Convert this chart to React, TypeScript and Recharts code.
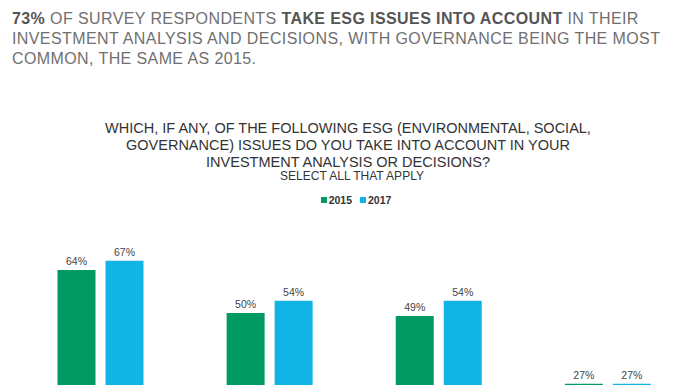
import React from "react";
import { BarChart, Bar, XAxis, YAxis, Legend, LabelList } from "recharts";

const categories = ["Governance", "Environmental", "Social", "None of these"];
const values2015 = [64, 50, 49, 27];
const values2017 = [67, 54, 54, 27];
const seriesNames = ["2015", "2017"];

const GREEN = "#029a63";
const BLUE = "#12b4e5";

const data = categories.map((name, i) => ({
  name,
  y2015: values2015[i],
  y2017: values2017[i],
}));

const pct = (v: number) => `${v}%`;

function LegendRow({ payload }: { payload?: Array<{ value: string; color: string }> }) {
  if (!payload?.length) return null;
  return (
    <div style={{ display: "flex", justifyContent: "center", gap: 8, paddingLeft: 16 }}>
      {payload.map((item) => (
        <div key={item.value} style={{ display: "flex", alignItems: "center", gap: 2 }}>
          <span style={{ width: 6, height: 6, background: item.color, display: "inline-block" }} />
          <span style={{ fontSize: 10.5, lineHeight: "12px", color: "#333", fontWeight: 700 }}>
            {item.value}
          </span>
        </div>
      ))}
    </div>
  );
}

export default function App() {
  return (
    <div
      style={{
        position: "absolute",
        left: 0,
        top: 0,
        width: 696,
        height: 385,
        overflow: "hidden",
        background: "#fff",
        fontFamily: "'Liberation Sans', Arial, sans-serif",
      }}
    >
      <div
        style={{
          position: "absolute",
          left: 12,
          top: 8.8,
          width: 684,
          whiteSpace: "nowrap",
          fontSize: 16,
          lineHeight: "20px",
          letterSpacing: 0.4,
          color: "#707070",
        }}
      >
        <b style={{ color: "#555" }}>73%</b> OF SURVEY RESPONDENTS{" "}
        <b style={{ color: "#555" }}>TAKE ESG ISSUES INTO ACCOUNT</b> IN THEIR
        <br />
        INVESTMENT ANALYSIS AND DECISIONS, WITH GOVERNANCE BEING THE MOST
        <br />
        COMMON, THE SAME AS 2015.
      </div>

      <div
        style={{
          position: "absolute",
          left: 0,
          top: 119.5,
          width: 696,
          textAlign: "center",
          fontSize: 14.5,
          lineHeight: "17px",
          color: "#333",
        }}
      >
        WHICH, IF ANY, OF THE FOLLOWING ESG (ENVIRONMENTAL, SOCIAL,
        <br />
        GOVERNANCE) ISSUES DO YOU TAKE INTO ACCOUNT IN YOUR
        <br />
        INVESTMENT ANALYSIS OR DECISIONS?
      </div>
      <div
        style={{
          position: "absolute",
          left: 4,
          top: 168.8,
          width: 696,
          textAlign: "center",
          fontSize: 12,
          lineHeight: "14px",
          color: "#333",
        }}
      >
        SELECT ALL THAT APPLY
      </div>

      <div style={{ position: "absolute", left: 0, top: 0 }}>
        <BarChart
          width={696}
          height={467}
          data={data}
          margin={{ top: 159, right: 4, bottom: 0, left: 15.5 }}
          barGap={10}
        >
          <XAxis dataKey="name" hide />
          <YAxis hide domain={[0, 100]} />
          <Legend
            verticalAlign="middle"
            align="center"
            wrapperStyle={{ top: 194, left: 0, width: 696 }}
            content={<LegendRow />}
          />
          <Bar dataKey="y2015" name={seriesNames[0]} fill={GREEN} barSize={38} isAnimationActive={false}>
            <LabelList dataKey="y2015" position="top" offset={5} formatter={pct} fill="#444" fontSize={10.5} />
          </Bar>
          <Bar dataKey="y2017" name={seriesNames[1]} fill={BLUE} barSize={38} isAnimationActive={false}>
            <LabelList dataKey="y2017" position="top" offset={5} formatter={pct} fill="#444" fontSize={10.5} />
          </Bar>
        </BarChart>
      </div>
    </div>
  );
}
